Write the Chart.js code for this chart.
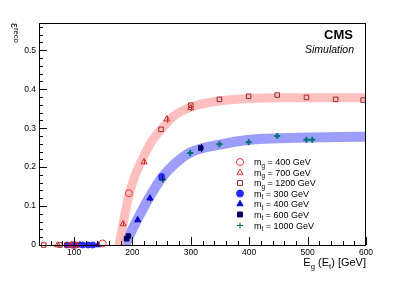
<!DOCTYPE html>
<html>
<head>
<meta charset="utf-8">
<script src="https://cdn.jsdelivr.net/npm/chart.js@4/dist/chart.umd.min.js"></script>
<style>
  body { margin: 0; background: #fff; }
  canvas { display: block; }
</style>
</head>
<body>
<canvas id="effChart" width="399" height="290"></canvas>
<script>
// efficiency vs E_gluino / E_stop
const xTicks = [100, 200, 300, 400, 500, 600];
const yTicks = [0, 0.1, 0.2, 0.3, 0.4, 0.5];

const glu400E = [100, 149, 194];
const glu400Eff = [0, 0.004, 0.133];
const glu700E = [72, 95, 184, 220, 259, 300];
const glu700Eff = [0, 0, 0.054, 0.213, 0.323, 0.352];
const glu700Err = [0, 0, 0.004, 0.006, 0.009, 0.008];
const glu1200E = [48, 76, 88, 105, 249, 300, 349, 399, 448, 498, 548, 595];
const glu1200Eff = [0, 0, 0, 0, 0.297, 0.359, 0.374, 0.382, 0.385, 0.379, 0.374, 0.372];

const stop300E = [88, 96, 103, 115, 124, 132, 250];
const stop300Eff = [0, 0, 0, 0, 0, 0, 0.176];
const stop400E = [110, 141, 209, 230];
const stop400Eff = [0, 0, 0.064, 0.12];
const stop400Err = [0, 0, 0.004, 0.008];
const stop600E = [100, 190, 193, 250, 317];
const stop600Eff = [0, 0.016, 0.023, 0.173, 0.249];
const stop600Err = [0, 0, 0, 0.006, 0.011];
const stop1000E = [252, 299, 349, 399, 448, 498, 508];
const stop1000Eff = [0.168, 0.236, 0.259, 0.264, 0.28, 0.27, 0.27];
const stop1000Err = [0, 0.008, 0, 0, 0, 0, 0];

// fitted bands (read along the centre of each band)
const redBandE = [168, 177, 184, 194, 205, 220, 235, 250, 270, 300, 350, 400, 450, 500, 550, 600];
const redBandEff = [-0.07, 0, 0.055, 0.128, 0.18, 0.23, 0.27, 0.298, 0.33, 0.354, 0.37, 0.376, 0.378, 0.378, 0.378, 0.378];
const blueBandE = [178, 188, 195, 210, 230, 250, 270, 300, 350, 400, 450, 500, 550, 600];
const blueBandEff = [-0.04, 0, 0.025, 0.07, 0.125, 0.172, 0.205, 0.238, 0.258, 0.27, 0.274, 0.276, 0.277, 0.278];

const legendItems = [
  { sub: 'g', text: ' = 400 GeV', style: 'circle', fill: false, color: '#ff3333' },
  { sub: 'g', text: ' = 700 GeV', style: 'triangle', fill: false, color: '#d02a2a' },
  { sub: 'g', text: ' = 1200 GeV', style: 'rect', fill: false, color: '#9a2a2a' },
  { sub: 't', text: ' = 300 GeV', style: 'circle', fill: true, color: '#2a2aff' },
  { sub: 't', text: ' = 400 GeV', style: 'triangle', fill: true, color: '#0000cc' },
  { sub: 't', text: ' = 600 GeV', style: 'rect', fill: true, color: '#000066' },
  { sub: 't', text: ' = 1000 GeV', style: 'cross', fill: true, color: '#007070' }
];

function pts(xs, ys, errs) {
  return xs.map((x, i) => ({ x: x, y: ys[i], err: errs ? errs[i] : 0 }));
}

function markerSet(xs, ys, errs, item, r) {
  return {
    type: 'scatter',
    data: pts(xs, ys, errs),
    pointStyle: item.style,
    pointRadius: r,
    pointBorderWidth: item.style === 'cross' ? 2 : 1,
    borderColor: item.color,
    backgroundColor: item.fill ? item.color : 'rgba(0,0,0,0)',
    clip: false,
    order: 0
  };
}

const FONT = '"Liberation Sans", Arial, sans-serif';

function subText(ctx, x, y, base, sub, rest, size) {
  ctx.font = size + 'px ' + FONT;
  ctx.fillText(base, x, y);
  x += ctx.measureText(base).width;
  ctx.font = (size * 0.7) + 'px ' + FONT;
  ctx.fillText(sub, x, y + size * 0.3);
  x += ctx.measureText(sub).width;
  ctx.font = size + 'px ' + FONT;
  ctx.fillText(rest, x, y);
  return x + ctx.measureText(rest).width;
}

// vertical error bars from the data's err field
const errorBars = {
  id: 'errorBars',
  afterDatasetsDraw(chart) {
    const ctx = chart.ctx;
    const ys = chart.scales.y;
    ctx.save();
    chart.data.datasets.forEach((ds, di) => {
      if (ds.type !== 'scatter') return;
      const meta = chart.getDatasetMeta(di);
      ctx.strokeStyle = ds.borderColor;
      ctx.lineWidth = 1;
      ds.data.forEach((p, i) => {
        if (!p.err) return;
        const el = meta.data[i];
        const x = Math.round(el.x) + 0.5;
        ctx.beginPath();
        ctx.moveTo(x, ys.getPixelForValue(p.y + p.err));
        ctx.lineTo(x, ys.getPixelForValue(p.y - p.err));
        ctx.stroke();
      });
    });
    ctx.restore();
  }
};

const decor = {
  id: 'decor',
  afterDraw(chart) {
    const ctx = chart.ctx;
    const a = chart.chartArea;
    const xs = chart.scales.x, ys = chart.scales.y;
    ctx.save();
    ctx.strokeStyle = '#000';
    ctx.lineWidth = 1;
    ctx.strokeRect(a.left + 0.5, a.top + 0.5, a.right - a.left - 1, a.bottom - a.top);

    // inward ticks
    ctx.beginPath();
    for (let v = 40; v <= 600; v += 20) {
      const px = Math.round(xs.getPixelForValue(v)) + 0.5;
      const len = v % 100 === 0 ? 8 : 4;
      ctx.moveTo(px, a.bottom);
      ctx.lineTo(px, a.bottom - len);
    }
    for (let k = 0; k <= 28; k++) {
      const v = k * 0.02;
      const py = Math.round(ys.getPixelForValue(v)) + 0.5;
      const len = k % 5 === 0 ? 8 : 4;
      ctx.moveTo(a.left, py);
      ctx.lineTo(a.left + len, py);
    }
    ctx.stroke();

    // CMS label
    ctx.fillStyle = '#000';
    ctx.textAlign = 'right';
    ctx.textBaseline = 'alphabetic';
    ctx.font = 'bold 13px ' + FONT;
    ctx.fillText('CMS', 353, 39);
    ctx.font = 'italic 10.5px ' + FONT;
    ctx.fillText('Simulation', 354, 53);

    // x title
    ctx.textAlign = 'left';
    let w = 0;
    ctx.font = '11px ' + FONT; w += ctx.measureText('E').width;
    ctx.font = '7.7px ' + FONT; w += ctx.measureText('g').width;
    ctx.font = '11px ' + FONT; w += ctx.measureText(' (E').width;
    ctx.font = '7.7px ' + FONT; w += ctx.measureText('t').width;
    ctx.font = '11px ' + FONT; w += ctx.measureText(') [GeV]').width;
    let x0 = a.right - w;
    x0 = subText(ctx, x0, 266, 'E', 'g', ' (E', 11);
    subText(ctx, x0, 266, '', 't', ') [GeV]', 11);

    // y title
    ctx.save();
    ctx.translate(11, 23);
    ctx.rotate(Math.PI / 2);
    ctx.font = '11px ' + FONT;
    ctx.fillText('\u03b5', 0, 0);
    const ew = ctx.measureText('\u03b5').width;
    ctx.font = '7.7px ' + FONT;
    ctx.fillText('reco', ew, -3);
    ctx.restore();

    // legend
    const rows = [162, 172.5, 183, 193.5, 204, 214.5, 225.5];
    legendItems.forEach((it, i) => {
      const y = rows[i];
      ctx.strokeStyle = it.color;
      ctx.fillStyle = it.fill ? it.color : 'rgba(0,0,0,0)';
      Chart.helpers.drawPoint(ctx, {
        pointStyle: it.style, rotation: 0,
        radius: it.style === 'cross' ? 3 : 3.5,
        borderWidth: it.style === 'cross' ? 2 : 1
      }, 240, y);
      ctx.fillStyle = '#000';
      subText(ctx, 254, y + 3, 'm', it.sub, it.text, 9);
    });
    ctx.restore();
  }
};

const ctx = document.getElementById('effChart').getContext('2d');
const effChart = new Chart(ctx, {
  data: {
    datasets: [
      {
        type: 'line', data: pts(redBandE, redBandEff),
        borderColor: 'rgba(255, 170, 170, 0.75)', borderWidth: 9,
        pointRadius: 0, cubicInterpolationMode: 'monotone', clip: 0, order: 10
      },
      {
        type: 'line', data: pts(blueBandE, blueBandEff),
        borderColor: 'rgba(110, 110, 250, 0.68)', borderWidth: 10,
        pointRadius: 0, cubicInterpolationMode: 'monotone', clip: 0, order: 10
      },
      markerSet(glu400E, glu400Eff, null, legendItems[0], 3.5),
      markerSet(glu700E, glu700Eff, glu700Err, legendItems[1], 3.5),
      markerSet(glu1200E, glu1200Eff, null, legendItems[2], 3.2),
      markerSet(stop300E, stop300Eff, null, legendItems[3], 3),
      markerSet(stop400E, stop400Eff, stop400Err, legendItems[4], 3.5),
      markerSet(stop600E, stop600Eff, stop600Err, legendItems[5], 3.2),
      markerSet(stop1000E, stop1000Eff, stop1000Err, legendItems[6], 3)
    ]
  },
  options: {
    responsive: false,
    animation: false,
    layout: { padding: { left: 0, top: 23, right: 33, bottom: 0 } },
    plugins: { legend: { display: false }, tooltip: { enabled: false } },
    scales: {
      x: {
        type: 'linear', min: 40, max: 600,
        afterBuildTicks: s => { s.ticks = xTicks.map(v => ({ value: v })); },
        afterFit: s => { s.height = 45; },
        grid: { display: false, drawTicks: false },
        border: { display: false },
        ticks: { color: '#000', padding: 3, maxRotation: 0, font: { family: FONT, size: 8.5 } }
      },
      y: {
        type: 'linear', min: 0, max: 0.57,
        afterBuildTicks: s => { s.ticks = yTicks.map(v => ({ value: v })); },
        afterFit: s => { s.width = 39; },
        grid: { display: false, drawTicks: false },
        border: { display: false },
        ticks: { color: '#000', padding: 3, font: { family: FONT, size: 8.5 },
                 callback: v => v === 0 ? '0' : v.toFixed(1) }
      }
    }
  },
  plugins: [errorBars, decor]
});
</script>
</body>
</html>
